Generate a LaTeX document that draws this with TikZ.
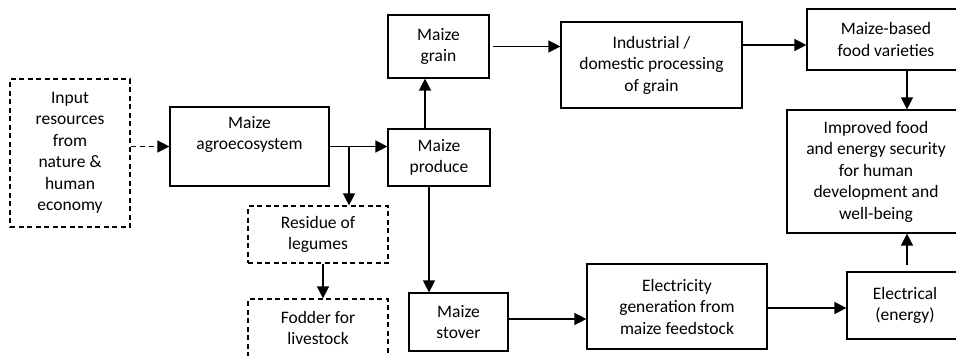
\documentclass[tikz,border=0pt]{standalone}
\usepackage{fontspec}
\setmainfont{Carlito}
\usetikzlibrary{arrows.meta}

\tikzset{
  box/.style={draw, line width=1.2pt, rectangle, inner sep=0pt, align=center,
    font=\fontsize{17.5}{21.5}\selectfont},
  dbox/.style={box, dash pattern=on 5pt off 3.5pt},
  arr/.style={line width=1.4pt, -{Triangle[length=12pt,width=12pt]}},
  darr/.style={arr, dash pattern=on 5pt off 4pt},
}

\begin{document}
\begin{tikzpicture}[x=1pt,y=-1pt]
  \clip (0,0) rectangle (956,356);
  \fill[white] (0,0) rectangle (956,356);

  % source and agro-ecosystem
  \node[dbox, minimum width=120pt, minimum height=148pt] (inp) at (70,153)
    {Input\\resources\\from\\nature \&\\human\\economy};
  \node[box, minimum width=159pt, minimum height=79pt] (agro) at (249.5,146.5)
    {Maize\\agroecosystem\\[6pt]};
  \node[dbox, minimum width=140pt, minimum height=57pt] (res) at (318,234.5)
    {Residue of\\legumes};
  \node[dbox, minimum width=140pt, minimum height=58pt] (fod) at (318,328)
    {Fodder for\\livestock};

  % produce and its two streams
  \node[box, minimum width=102pt, minimum height=57pt] (prod) at (439,157.5)
    {Maize\\produce};
  \node[box, minimum width=101pt, minimum height=63pt] (grain) at (438.5,46.5)
    {Maize\\grain};
  \node[box, minimum width=99pt, minimum height=58pt] (stov) at (458.5,322)
    {Maize\\stover};
  \node[box, minimum width=181pt, minimum height=86pt] (ind) at (651.5,65)
    {Industrial /\\domestic processing\\of grain};
  \node[box, minimum width=180pt, minimum height=85pt] (gen) at (677,306.5)
    {Electricity\\generation from\\maize feedstock};

  % outcomes
  \node[box, minimum width=158pt, minimum height=61pt] (food) at (886,39.5)
    {Maize-based\\food varieties};
  \node[box, minimum width=178pt, minimum height=123pt] (impr) at (876,171.5)
    {Improved food\\and energy security\\for human\\development and\\well-being};
  \node[box, minimum width=116pt, minimum height=67pt] (elec) at (905,305.5)
    {Electrical\\(energy)};

  % connectors
  \draw[darr] (inp.east |- agro) -- (agro.west);
  \draw[arr] (agro.east) -- (agro.east -| prod.west);
  \coordinate (br) at (349,146.5);
  \draw[arr] (br) -- (br |- res.north);
  \draw[arr] ([xshift=5pt]res.south) -- ([xshift=5pt]fod.north);
  \draw[arr] ([xshift=-14pt]prod.north) -- ([xshift=-14pt]prod.north |- grain.south);
  \draw[arr] ([xshift=-10pt]prod.south) -- ([xshift=-10pt]prod.south |- stov.north);
  \draw[arr] ([xshift=3pt]grain.east) -- (grain.east -| ind.west);
  \coordinate (ie) at (742,45);
  \draw[arr] (ie) -- (ie -| food.west);
  \coordinate (fd) at (907,70);
  \draw[arr] (fd) -- (fd |- impr.north);
  \draw[arr] ([yshift=3pt]stov.east) -- ([yshift=3pt]stov.east -| gen.west);
  \draw[arr] ([yshift=-1.5pt]gen.east) -- ([yshift=-1.5pt]gen.east -| elec.west);
  \coordinate (et) at (907,265);
  \draw[arr] (et) -- (et |- impr.south);
\end{tikzpicture}
\end{document}
